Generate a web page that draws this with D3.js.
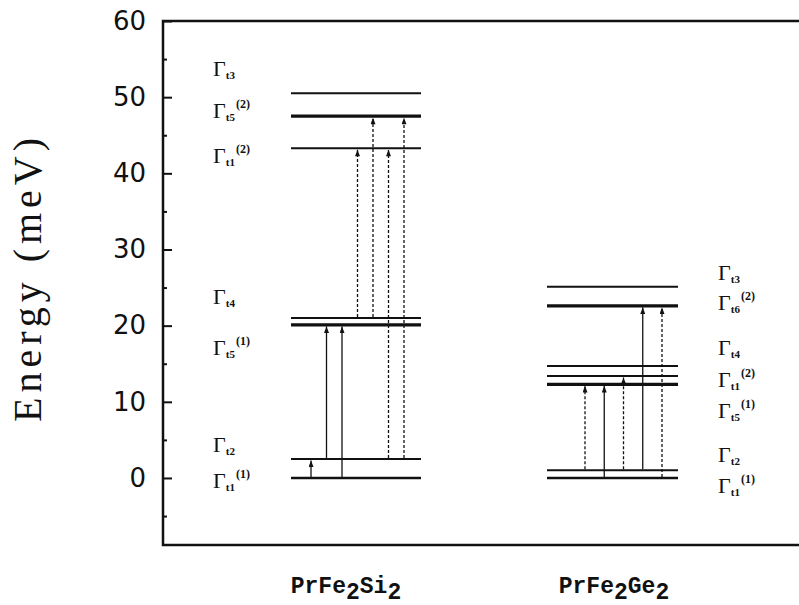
<!DOCTYPE html>
<html>
<head>
    <script src="https://d3js.org/d3.v7.min.js"></script>
    <style>
        body {margin: 0; background: white;}
        svg {display: block;}
        .tick text {font-family: "DejaVu Sans", sans-serif; font-size: 26px; fill: #111;}
        .tick line {stroke: #111; stroke-width: 2px;}
        .level {stroke: #111;}
        .trans {stroke: #111; stroke-width: 1.3px; fill: none;}
        .gamma {font-family: "Liberation Serif", serif; fill: #111;}
    </style>
</head>
<body>
    <svg width="799" height="605"></svg>
    <script>
        // compounds and crystal-field levels (meV)
        let compounds = ["PrFe2Si2", "PrFe2Ge2"];

        let siLevels = [0, 2.5, 20.1, 21.0, 43.3, 47.5, 50.5];
        let siSub = ["t1", "t2", "t5", "t4", "t1", "t5", "t3"];
        let siSup = ["(1)", "", "(1)", "", "(2)", "(2)", ""];
        let siDeg = [1, 1, 2, 1, 1, 2, 1];
        let siLabelAt = [-1.3, 3.4, 16.1, 22.8, 41.3, 47.2, 52.8];
        // transitions: [from level, to level, dashed]
        let siTrans = [[0, 1, 0], [1, 2, 0], [0, 2, 0], [3, 4, 1], [3, 5, 1], [1, 4, 1], [1, 5, 1]];

        let geLevels = [0, 1.0, 12.3, 13.4, 14.7, 22.6, 25.1];
        let geSub = ["t1", "t2", "t5", "t1", "t4", "t6", "t3"];
        let geSup = ["(1)", "", "(1)", "(2)", "", "(2)", ""];
        let geDeg = [1, 1, 2, 1, 1, 2, 1];
        let geLabelAt = [-2.0, 2.1, 7.9, 11.9, 16.1, 22.0, 26.0];
        let geTrans = [[1, 2, 1], [0, 2, 0], [1, 3, 1], [1, 5, 0], [0, 5, 1]];

        let majorTicks = [0, 10, 20, 30, 40, 50, 60];
        let minorTicks = [-5, 5, 15, 25, 35, 45, 55];

        let svg = d3.select("svg");
        let plotLeft = 163, plotTop = 21, plotBottom = 545;

        let y = d3.scaleLinear().domain([-8.8, 60]).range([plotBottom, plotTop]);

        // frame (open past the right edge of the picture)
        svg.append("rect")
            .attr("x", plotLeft).attr("y", plotTop)
            .attr("width", 700).attr("height", plotBottom - plotTop)
            .attr("fill", "none").attr("stroke", "#111").attr("stroke-width", 2.5);

        let axis = svg.append("g")
            .attr("transform", `translate(${plotLeft},0)`)
            .call(d3.axisLeft(y).tickValues(majorTicks).tickSize(-9).tickPadding(17));
        axis.select(".domain").remove();

        let minor = svg.append("g")
            .attr("transform", `translate(${plotLeft},0)`)
            .call(d3.axisLeft(y).tickValues(minorTicks).tickSize(-4).tickFormat(""));
        minor.select(".domain").remove();

        // y title
        svg.append("text")
            .attr("transform", "translate(41,280) rotate(-90)")
            .attr("text-anchor", "middle")
            .attr("textLength", 284)
            .attr("lengthAdjust", "spacing")
            .style("font-family", "'Liberation Serif', serif")
            .style("font-size", "40px")
            .style("fill", "#111")
            .text("Energy (meV)");

        // arrowhead
        svg.append("defs").append("marker")
            .attr("id", "head")
            .attr("viewBox", "0 -3 8 6")
            .attr("refX", 8).attr("refY", 0)
            .attr("markerUnits", "userSpaceOnUse")
            .attr("markerWidth", 8).attr("markerHeight", 5)
            .attr("orient", "auto")
            .append("path").attr("d", "M0,-3L8,0L0,3Z").attr("fill", "#111");

        function drawGroup(levels, deg, trans, x0, x1, ax0, ax1) {
            let x = d3.scaleLinear().domain([0, 1]).range([x0, x1]);
            let g = svg.append("g");
            g.selectAll(".level")
                .data(levels)
                .enter()
                .append("line")
                .attr("class", "level")
                .attr("x1", x(0)).attr("x2", x(1))
                .attr("y1", d => y(d)).attr("y2", d => y(d))
                .attr("stroke-width", (d, i) => deg[i] == 2 ? 3.2 : (i == 0 ? 2.6 : 2));

            let ax = d3.scalePoint().domain(d3.range(trans.length)).range([ax0, ax1]);
            g.selectAll(".trans")
                .data(trans)
                .enter()
                .append("line")
                .attr("class", "trans")
                .attr("x1", (d, i) => ax(i)).attr("x2", (d, i) => ax(i))
                .attr("y1", d => y(levels[d[0]]) - 1)
                .attr("y2", d => y(levels[d[1]]) + 1.5)
                .attr("stroke-dasharray", d => d[2] ? "3,2" : null)
                .attr("marker-end", "url(#head)");
        }

        drawGroup(siLevels, siDeg, siTrans, 291, 421, 311, 404);
        drawGroup(geLevels, geDeg, geTrans, 547, 678, 585, 662);

        function drawLabels(sub, sup, at, xPos) {
            let t = svg.selectAll(null)
                .data(at)
                .enter()
                .append("text")
                .attr("class", "gamma")
                .attr("x", xPos)
                .attr("y", d => y(d));
            t.append("tspan").style("font-size", "22px").text("Γ");
            t.append("tspan").style("font-size", "11px").style("font-weight", "bold")
                .attr("dy", 3).text((d, i) => sub[i]);
            t.append("tspan").style("font-size", "12px").style("font-weight", "bold")
                .attr("dx", 1).attr("dy", -13).text((d, i) => sup[i]);
        }

        drawLabels(siSub, siSup, siLabelAt, 213);
        drawLabels(geSub, geSup, geLabelAt, 718);

        // compound names with subscripts
        let names = svg.selectAll(".name")
            .data(compounds)
            .enter()
            .append("text")
            .attr("class", "name")
            .attr("x", (d, i) => [346, 614][i])
            .attr("y", 593)
            .attr("text-anchor", "middle")
            .style("font-family", "'Liberation Mono', monospace")
            .style("font-size", "23px")
            .style("font-weight", "bold")
            .style("fill", "#111");
        names.each(function (d) {
            let parts = d.match(/[A-Za-z]+|\d+/g);
            let el = d3.select(this);
            parts.forEach((p, k) => {
                let isNum = /\d/.test(p);
                let prevNum = k > 0 && /\d/.test(parts[k - 1]);
                el.append("tspan")
                    .attr("dy", isNum ? 6 : (prevNum ? -6 : 0))
                    .text(p);
            });
        });
    </script>
</body>
</html>
